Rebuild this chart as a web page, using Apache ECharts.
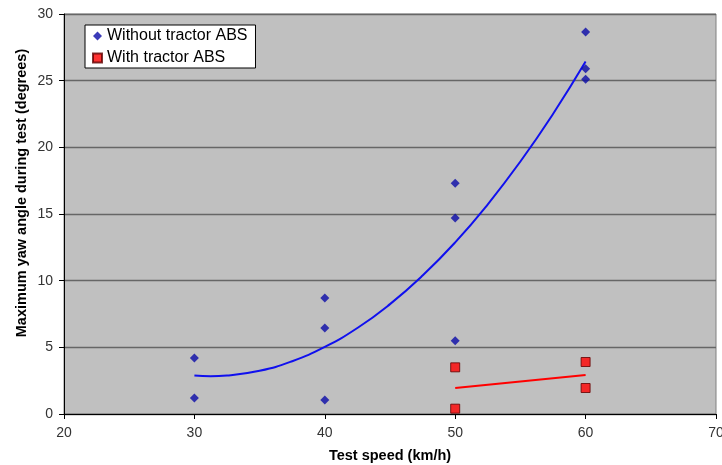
<!DOCTYPE html>
<html>
<head>
<meta charset="utf-8">
<script src="https://cdn.jsdelivr.net/npm/echarts@6/dist/echarts.min.js"></script>
<style>html,body{margin:0;padding:0;background:#fff;}#c{width:722px;height:465px;}</style>
</head>
<body>
<div id="c"></div>
<script>
// Data
const withoutABS_x = [30, 30, 40, 40, 40, 50, 50, 50, 60, 60, 60];
const withoutABS_y = [4.2, 1.2, 8.7, 6.45, 1.05, 17.3, 14.7, 5.5, 28.65, 25.9, 25.1];
const withABS_x = [50, 50, 60, 60];
const withABS_y = [3.5, 0.4, 3.9, 1.95];
// Trend lines
const trendBlue_x = [30, 31.25, 32.5, 35, 37.5, 40, 42.5, 45, 47.5, 50, 52.5, 55, 57.5, 60];
const trendBlue_y = [2.89, 2.84, 2.89, 3.24, 3.96, 5.03, 6.45, 8.24, 10.38, 12.87, 15.73, 18.94, 22.5, 26.43];
const trendRed_x = [50, 60];
const trendRed_y = [1.95, 2.93];
const xTicks = [20, 30, 40, 50, 60, 70];
const yTicks = [0, 5, 10, 15, 20, 25, 30];
const xTitle = 'Test speed (km/h)';
const yTitle = 'Maximum yaw angle during test (degrees)';

const zip = (xs, ys) => xs.map((x, i) => [x, ys[i]]);
const chart = echarts.init(document.getElementById('c'));
const font = 'Liberation Sans, Arial, sans-serif';
chart.setOption({
  animation: false,
  backgroundColor: '#fff',
  textStyle: { fontFamily: font },
  grid: { left: 64, right: 6, top: 14, bottom: 51, containLabel: false, outerBoundsMode: 'none',
          show: true, backgroundColor: '#c0c0c0', borderColor: '#808080', borderWidth: 1 },
  legend: {
    orient: 'vertical', left: 85, top: 25, padding: [2, 8, 1, 7], itemGap: 4,
    backgroundColor: '#fff', borderColor: '#000', borderWidth: 1,
    itemWidth: 9, itemHeight: 9,
    textStyle: { fontSize: 16, lineHeight: 18, color: '#000', fontFamily: font },
    data: ['Without tractor ABS', 'With tractor ABS']
  },
  graphic: [{
    type: 'text', x: 22, y: 193, rotation: Math.PI / 2,
    style: { text: yTitle, fontSize: 14.5, fontWeight: 'bold', fill: '#000', fontFamily: font,
             align: 'center', verticalAlign: 'middle' }
  }],
  xAxis: {
    type: 'value', min: xTicks[0], max: xTicks[xTicks.length - 1], interval: 10,
    name: xTitle, nameLocation: 'middle', nameGap: 34,
    nameTextStyle: { fontSize: 14.5, fontWeight: 'bold', color: '#000', fontFamily: font },
    axisLine: { show: true, lineStyle: { color: '#000', width: 1 } },
    axisTick: { show: true, length: 5, lineStyle: { color: '#000' } },
    axisLabel: { fontSize: 14, color: '#333', margin: 12, fontFamily: font },
    splitLine: { show: false }
  },
  yAxis: {
    type: 'value', min: yTicks[0], max: yTicks[yTicks.length - 1], interval: 5,
    axisLine: { show: true, lineStyle: { color: '#000', width: 1 } },
    axisTick: { show: true, length: 5, lineStyle: { color: '#000' } },
    axisLabel: { fontSize: 14, color: '#333', margin: 11, fontFamily: font },
    splitLine: { show: true, lineStyle: { color: '#666', width: 1.3 } }
  },
  series: [
    { name: 'Without tractor ABS', type: 'scatter', symbol: 'diamond', symbolSize: 9,
      itemStyle: { color: '#0a0aa8' }, data: zip(withoutABS_x, withoutABS_y), z: 5 },
    { name: 'With tractor ABS', type: 'scatter', symbol: 'rect', symbolSize: 9,
      itemStyle: { color: '#ff0000', borderColor: '#600000', borderWidth: 1 }, data: zip(withABS_x, withABS_y), z: 5 },
    { name: 'trendBlue', type: 'line', smooth: true, showSymbol: false, symbol: 'none',
      lineStyle: { color: '#1010ee', width: 2 }, data: zip(trendBlue_x, trendBlue_y), z: 3 },
    { name: 'trendRed', type: 'line', showSymbol: false, symbol: 'none',
      lineStyle: { color: '#ff0000', width: 2 }, data: zip(trendRed_x, trendRed_y), z: 3 }
  ]
});
</script>
</body>
</html>
